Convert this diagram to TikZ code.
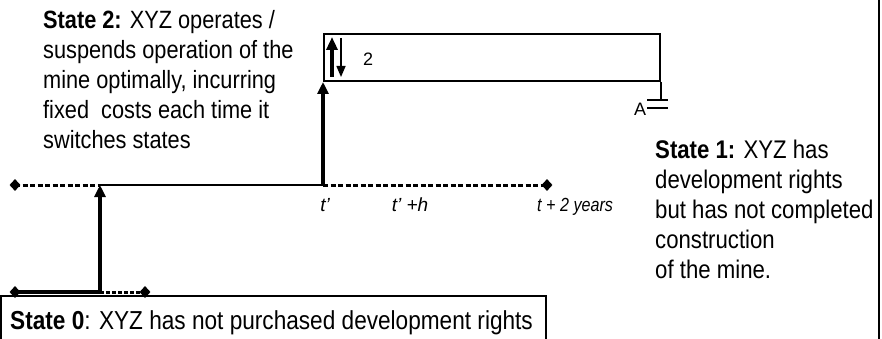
\documentclass[tikz,border=0pt]{standalone}
\usepackage{fontspec}
\setmainfont{Liberation Sans}
\newfontfamily\narrowfont[FakeStretch=0.87]{Liberation Sans}
\usetikzlibrary{arrows.meta,shapes.geometric}
\begin{document}
\begin{tikzpicture}[x=1pt,y=-1pt,
  bigtext/.style={font=\narrowfont\fontsize{25}{30}\selectfont, align=left, inner sep=0pt, anchor=north west},
  smalltext/.style={font=\fontsize{19}{21}\selectfont\itshape, inner sep=0pt},
  plaintext/.style={font=\fontsize{18}{20}\selectfont, inner sep=0pt},
  dia/.style={diamond, fill=black, inner sep=0pt, minimum width=11pt, minimum height=12pt},
  solidline/.style={line width=2pt},
  dashline/.style={line width=3pt, dash pattern=on 5pt off 2.5pt},
  dotline/.style={line width=3pt, dash pattern=on 4pt off 2pt},
  uparrow/.style={line width=4pt, -{Triangle[width=11pt,length=12pt]}},
  boxline/.style={line width=2pt}
]
\useasboundingbox (0,0) rectangle (882,339);

% diamonds
\node[dia] (d1) at (15,185) {};
\node[dia] (d2) at (547,185) {};
\node[dia] (d3) at (15,292) {};
\node[dia] (d4) at (145,292) {};

\coordinate (u1) at (100,185);
\coordinate (l1) at (100,292);
\coordinate (tp) at (323,185);

% upper timeline
\draw[dashline] (d1.center) -- (u1);
\draw[solidline] (u1) -- (tp);
\draw[dashline] (tp) -- (d2.center);

% lower timeline
\draw[line width=4pt] (d3.center) -- (l1);
\draw[dotline] (l1) -- (d4.center);

% top box
\node[draw, boxline, minimum width=336pt, minimum height=47pt, anchor=north west, inner sep=0pt] (topbox) at (323,33) {};
\coordinate (g) at (topbox.south east |- 0,100);
\draw[boxline] (topbox.south east) -- (g);
\coordinate (g1) at (647,100);
\coordinate (g2) at (668,100);
\coordinate (g3) at (647,108);
\coordinate (g4) at (668,108);
\draw[boxline] (g1) -- (g2);
\draw[boxline] (g3) -- (g4);
\node[plaintext, anchor=base] (A) at (640,116) {A};

% vertical arrows
\draw[uparrow] (l1) -- (u1);
\draw[uparrow] (tp) -- (topbox.south west);

% arrows inside box
\coordinate (ua1) at (332,77);
\coordinate (ua2) at (332,37);
\coordinate (da1) at (341,38);
\coordinate (da2) at (341,77);
\draw[line width=4pt, -{Triangle[width=11pt,length=13pt]}] (ua1) -- (ua2);
\draw[line width=1.5pt, -{Triangle[width=9pt,length=11pt]}] (da1) -- (da2);
\node[plaintext, anchor=base] (two) at (368,66) {2};

% time labels
\node[smalltext, anchor=base] (t1) at (325,211) {t’};
\node[smalltext, anchor=base] (t2) at (410,211) {t’ +h};
\node[smalltext, anchor=base west] (t3) at (537,211) {\scalebox{0.85}[1]{t + 2 years}};

% texts
\node[bigtext] (s2) at (43,10) {\textbf{State 2:} XYZ operates /\\suspends operation of the\\mine optimally, incurring\\fixed~ costs each time it\\switches states};
\node[bigtext, font=\narrowfont\fontsize{25.5}{30}\selectfont] (s1) at (655,140) {\textbf{State 1:} XYZ has\\development rights\\but has not completed\\construction\\of the mine.};
\node[font=\narrowfont\fontsize{26}{30}\selectfont, inner sep=0pt, anchor=base west] (s0) at (10,329) {\textbf{State 0}: XYZ has not purchased development rights};

% state 0 box
\coordinate (b1) at (1,340);
\coordinate (b2) at (1,296);
\coordinate (b3) at (546,296);
\coordinate (b4) at (546,340);
\draw[boxline] (b1) -- (b2) -- (b3) -- (b4);

% right edge line
\coordinate (r1) at (879,0);
\coordinate (r2) at (879,339);
\draw[boxline] (r1) -- (r2);
\end{tikzpicture}
\end{document}
